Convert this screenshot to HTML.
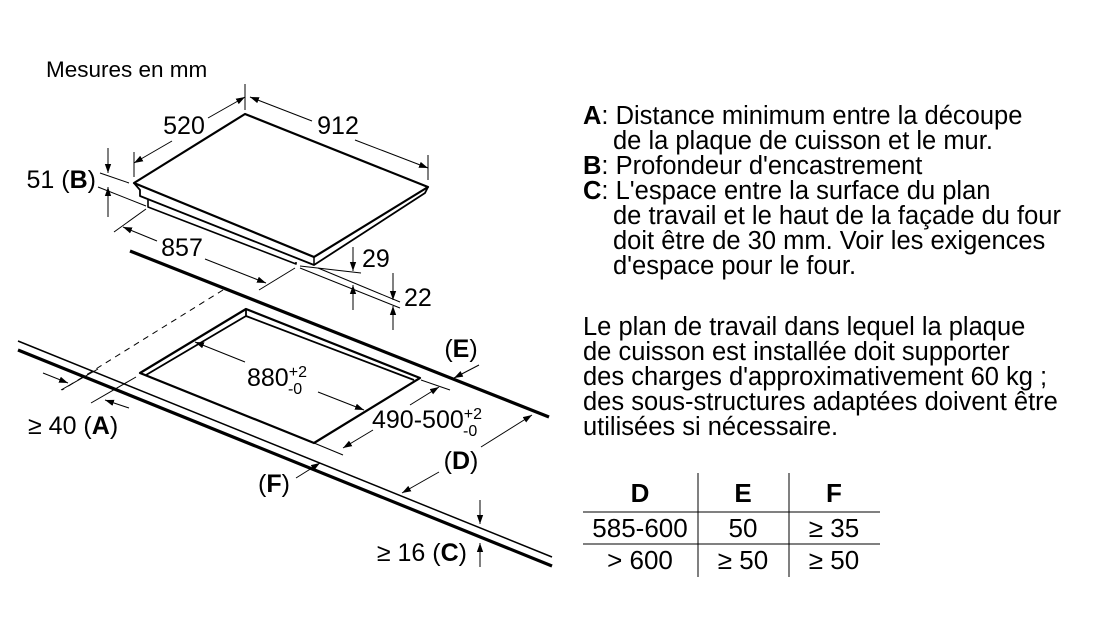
<!DOCTYPE html>
<html><head><meta charset="utf-8"><style>
html,body{margin:0;padding:0;background:#fff;}
svg{display:block;font-family:"Liberation Sans",Arial,sans-serif;}
</style></head><body>
<svg width="1114" height="620" viewBox="0 0 1114 620" xmlns="http://www.w3.org/2000/svg">
<defs>
<marker id="a" viewBox="0 0 10 10" refX="10" refY="5" markerWidth="9" markerHeight="9" orient="auto-start-reverse" markerUnits="userSpaceOnUse"><path d="M0,1.5 L10,5 L0,8.5 Z" fill="#000"/></marker>
</defs>
<g fill="none" stroke="#000" stroke-linejoin="round">
<path d="M245,114 L428,187 L314,257 L134,183 Z" stroke-width="2.2"/>
<path d="M134,183 L140,190 L140,196 L314,265 L425,193 L428,187" stroke-width="1.8"/>
<line x1="314" y1="257" x2="314" y2="265" stroke-width="1.5"/>
<path d="M148,200 L148,207 L296,264 L296,262" stroke-width="1.6"/>
<line x1="130" y1="251" x2="549" y2="417" stroke-width="3.2"/>
<line x1="18" y1="341" x2="552" y2="557" stroke-width="1.5"/>
<line x1="18" y1="350" x2="552" y2="566" stroke-width="3.2"/>
<path d="M246,309 L420,378 L314,443 L140,373 Z" stroke-width="2.2"/>
<path d="M246,309 L246,316 L146,375 M246,316 L414,380" stroke-width="1.8"/>
<line x1="223" y1="290" x2="62" y2="390" stroke-width="1" stroke-dasharray="6,5"/>
<g stroke-width="1">
<line x1="134" y1="152" x2="134" y2="177"/>
<line x1="245" y1="84" x2="245" y2="110"/>
<line x1="428" y1="155" x2="428" y2="180"/>
<line x1="134" y1="163" x2="172" y2="141" marker-start="url(#a)"/>
<line x1="208" y1="118" x2="245" y2="97" marker-end="url(#a)"/>
<line x1="250" y1="97" x2="312" y2="121" marker-start="url(#a)"/>
<line x1="355" y1="140" x2="428" y2="168" marker-end="url(#a)"/>
<line x1="100" y1="173" x2="129" y2="183"/>
<line x1="98" y1="187" x2="146" y2="206"/>
<line x1="108" y1="148" x2="108" y2="173" marker-end="url(#a)"/>
<line x1="108" y1="217" x2="108" y2="187" marker-end="url(#a)"/>
<line x1="114" y1="232" x2="146" y2="209"/>
<line x1="259" y1="290" x2="295" y2="268"/>
<line x1="123" y1="227" x2="157" y2="241" marker-start="url(#a)"/>
<line x1="205" y1="259" x2="266" y2="283" marker-end="url(#a)"/>
<line x1="300" y1="266" x2="361" y2="273"/>
<line x1="318" y1="268" x2="400" y2="302"/>
<line x1="300" y1="268" x2="400" y2="308"/>
<line x1="353" y1="247" x2="353" y2="271" marker-end="url(#a)"/>
<line x1="353" y1="310" x2="353" y2="285" marker-end="url(#a)"/>
<line x1="393" y1="273" x2="393" y2="300" marker-end="url(#a)"/>
<line x1="393" y1="330" x2="393" y2="306" marker-end="url(#a)"/>
<line x1="195" y1="342" x2="245" y2="362" marker-start="url(#a)"/>
<line x1="318" y1="392" x2="364" y2="410" marker-end="url(#a)"/>
<line x1="421" y1="380" x2="450" y2="390"/>
<line x1="314" y1="443" x2="343" y2="455"/>
<line x1="343" y1="448" x2="373" y2="430" marker-start="url(#a)"/>
<line x1="410" y1="405" x2="439" y2="387" marker-end="url(#a)"/>
<line x1="479" y1="365" x2="454" y2="378" marker-end="url(#a)"/>
<line x1="481" y1="447" x2="532" y2="415" marker-end="url(#a)"/>
<line x1="439" y1="472" x2="402" y2="493" marker-end="url(#a)"/>
<line x1="296" y1="478" x2="320" y2="463" marker-end="url(#a)"/>
<line x1="43" y1="373" x2="68" y2="383" marker-end="url(#a)"/>
<line x1="61" y1="390" x2="98" y2="369"/>
<line x1="91" y1="403" x2="136" y2="377"/>
<line x1="129" y1="408" x2="105" y2="400" marker-end="url(#a)"/>
<line x1="480" y1="500" x2="480" y2="524" marker-end="url(#a)"/>
<line x1="480" y1="567" x2="480" y2="543" marker-end="url(#a)"/>
<line x1="583" y1="512" x2="880" y2="512"/>
<line x1="583" y1="544" x2="880" y2="544"/>
<line x1="698" y1="473" x2="698" y2="577"/>
<line x1="789" y1="473" x2="789" y2="577"/>
</g>
</g>
<g font-size="25" fill="#000">
<text x="46" y="77" font-size="22.5">Mesures en mm</text>
<text x="184" y="134" text-anchor="middle">520</text>
<text x="338" y="134" text-anchor="middle">912</text>
<text x="96" y="188" text-anchor="end">51 (<tspan font-weight="bold">B</tspan>)</text>
<text x="182" y="256" text-anchor="middle">857</text>
<text x="362" y="267">29</text>
<text x="404" y="306">22</text>
<text x="247" y="386">880<tspan font-size="16" dy="-9">+2</tspan><tspan font-size="16" dx="-19" dy="17">-0</tspan></text>
<text x="372" y="428">490-500<tspan font-size="16" dy="-9">+2</tspan><tspan font-size="16" dx="-19" dy="17">-0</tspan></text>
<text x="461" y="357" text-anchor="middle">(<tspan font-weight="bold">E</tspan>)</text>
<text x="461" y="469" text-anchor="middle">(<tspan font-weight="bold">D</tspan>)</text>
<text x="274" y="492" text-anchor="middle">(<tspan font-weight="bold">F</tspan>)</text>
<text x="28" y="434">≥ 40 (<tspan font-weight="bold">A</tspan>)</text>
<text x="467" y="561" text-anchor="end">≥ 16 (<tspan font-weight="bold">C</tspan>)</text>

<g font-size="25.5">
<text x="583" y="124"><tspan font-weight="bold">A</tspan>: Distance minimum entre la découpe</text>
<text x="613" y="149">de la plaque de cuisson et le mur.</text>
<text x="583" y="174"><tspan font-weight="bold">B</tspan>: Profondeur d'encastrement</text>
<text x="583" y="199"><tspan font-weight="bold">C</tspan>: L'espace entre la surface du plan</text>
<text x="613" y="224">de travail et le haut de la façade du four</text>
<text x="613" y="249">doit être de 30 mm. Voir les exigences</text>
<text x="613" y="274">d'espace pour le four.</text>
<text x="583" y="335">Le plan de travail dans lequel la plaque</text>
<text x="583" y="360">de cuisson est installée doit supporter</text>
<text x="583" y="385">des charges d'approximativement 60 kg ;</text>
<text x="583" y="410">des sous-structures adaptées doivent être</text>
<text x="583" y="435">utilisées si nécessaire.</text>
</g>

<g text-anchor="middle" font-size="26">
<text x="640" y="502" font-weight="bold">D</text>
<text x="743" y="502" font-weight="bold">E</text>
<text x="834" y="502" font-weight="bold">F</text>
<text x="640" y="537">585-600</text>
<text x="743" y="537">50</text>
<text x="834" y="537">≥ 35</text>
<text x="640" y="569">&gt; 600</text>
<text x="743" y="569">≥ 50</text>
<text x="834" y="569">≥ 50</text>
</g>
</g>
</svg>
</body></html>
